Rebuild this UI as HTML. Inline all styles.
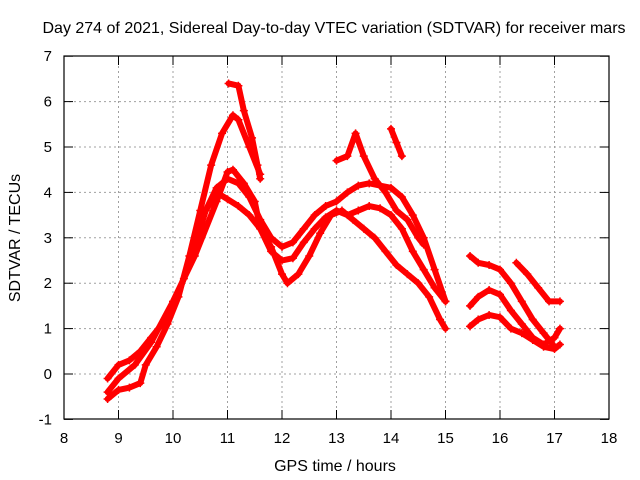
<!DOCTYPE html>
<html><head><meta charset="utf-8"><style>
body{margin:0;background:#fff}
svg{display:block;font-family:"Liberation Sans",sans-serif}
</style></head><body>
<svg id="chart" width="640" height="480">
<text x="334" y="33" text-anchor="middle" font-size="16">Day 274 of 2021, Sidereal Day-to-day VTEC variation (SDTVAR) for receiver mars</text>
<text x="335" y="471" text-anchor="middle" font-size="16">GPS time / hours</text>
<text transform="translate(20,238) rotate(-90)" text-anchor="middle" font-size="16">SDTVAR / TECUs</text>
<g id="grid"></g><g id="ticks"></g><g id="series"></g>
<rect x="64" y="56" width="545" height="363" fill="none" stroke="#000" stroke-width="1.2"/>
</svg>
<script>
const xTicks=[8,9,10,11,12,13,14,15,16,17,18];
const yTicks=[-1,0,1,2,3,4,5,6,7];
const trackA=[[8.8,-0.55],[9.0,-0.35],[9.2,-0.3],[9.4,-0.2],[9.5,0.2],[9.7,0.6],[9.9,1.1],[10.1,1.7],[10.3,2.6],[10.5,3.6],[10.7,4.6],[10.9,5.3],[11.1,5.7],[11.2,5.6],[11.4,5.0],[11.6,4.4]];
const trackPeak=[[11.02,6.4],[11.2,6.35],[11.3,5.8],[11.45,5.2],[11.55,4.6],[11.6,4.3]];
const trackB=[[8.8,-0.1],[9.0,0.2],[9.2,0.3],[9.4,0.5],[9.6,0.8],[9.8,1.1],[10.0,1.5],[10.2,2.1],[10.4,2.9],[10.6,3.6],[10.8,4.1],[11.0,4.3],[11.2,4.2],[11.4,3.9],[11.6,3.4],[11.8,3.0],[12.0,2.8],[12.2,2.9],[12.4,3.2],[12.6,3.5],[12.8,3.7],[13.0,3.8],[13.2,4.0],[13.4,4.15],[13.6,4.2],[13.8,4.15],[14.0,4.1],[14.2,3.9],[14.4,3.5],[14.6,3.0],[14.8,2.3],[15.0,1.6]];
const trackC=[[8.8,-0.4],[9.0,-0.1],[9.3,0.2],[9.6,0.7],[10.0,1.6],[10.4,2.6],[10.8,3.8],[11.0,4.45],[11.1,4.5],[11.3,4.2],[11.5,3.8],[11.6,3.2],[11.8,2.7],[12.0,2.5],[12.2,2.55],[12.4,2.9],[12.6,3.2],[12.8,3.45],[13.0,3.6],[13.2,3.5],[13.4,3.6],[13.6,3.7],[13.8,3.65],[14.0,3.5],[14.2,3.2],[14.4,2.7],[14.6,2.3],[14.8,1.9],[15.0,1.6]];
const trackD=[[10.4,2.8],[10.6,3.6],[10.8,4.0],[11.0,3.85],[11.2,3.7],[11.4,3.5],[11.6,3.2],[11.8,2.8],[12.0,2.2],[12.1,2.0],[12.3,2.2],[12.5,2.6],[12.7,3.1],[12.9,3.5],[13.1,3.6],[13.3,3.4],[13.5,3.2],[13.7,3.0],[13.9,2.7],[14.1,2.4],[14.3,2.2],[14.5,2.0],[14.7,1.7],[14.9,1.2],[15.0,1.0]];
const trackE=[[13.0,4.7],[13.2,4.8],[13.35,5.3],[13.5,4.8],[13.7,4.3],[13.9,4.0],[14.1,3.6],[14.3,3.4],[14.5,3.0],[14.6,2.85]];
const trackF=[[14.0,5.4],[14.1,5.1],[14.2,4.8]];
const trackG=[[15.45,2.6],[15.6,2.45],[15.8,2.4],[16.0,2.3],[16.2,2.0],[16.4,1.6],[16.6,1.2],[16.8,0.9],[17.0,0.6]];
const trackH=[[15.45,1.5],[15.6,1.7],[15.8,1.85],[16.0,1.75],[16.2,1.4],[16.4,1.1],[16.6,0.8],[16.8,0.65],[17.0,0.8],[17.1,1.0]];
const trackI=[[15.45,1.05],[15.6,1.2],[15.8,1.3],[16.0,1.25],[16.2,1.0],[16.4,0.9],[16.6,0.75],[16.8,0.6],[17.0,0.55],[17.1,0.65]];
const trackJ=[[16.3,2.45],[16.5,2.2],[16.7,1.9],[16.9,1.6],[17.1,1.6]];
const tracks=[trackA,trackPeak,trackB,trackC,trackD,trackE,trackF,trackG,trackH,trackI,trackJ];

const X=v=>64+(v-8)*54.5, Y=v=>374-v*45.4;
const NS="http://www.w3.org/2000/svg";
function mk(t,a,p){const e=document.createElementNS(NS,t);for(const k in a)e.setAttribute(k,a[k]);p.appendChild(e);return e;}
const grid=document.getElementById('grid'),ticks=document.getElementById('ticks'),ser=document.getElementById('series');
xTicks.forEach(t=>{
  if(t>8&&t<18){const g=mk('line',{x1:X(t),x2:X(t),y1:56,y2:419,stroke:'#a0a0a0','stroke-dasharray':'2,3'},grid);
  }
  mk('line',{x1:X(t),x2:X(t),y1:419,y2:410,stroke:'#000'},ticks);mk('line',{x1:X(t),x2:X(t),y1:56,y2:65,stroke:'#000'},ticks);
  const l=mk('text',{x:X(t),y:443,'text-anchor':'middle','font-size':15},ticks);l.textContent=t;
  
});
yTicks.forEach(t=>{
  if(t>-1&&t<7){const g=mk('line',{x1:64,x2:609,y1:Y(t),y2:Y(t),stroke:'#a0a0a0','stroke-dasharray':'2,3'},grid);
  }
  mk('line',{x1:64,x2:73,y1:Y(t),y2:Y(t),stroke:'#000'},ticks);mk('line',{x1:600,x2:609,y1:Y(t),y2:Y(t),stroke:'#000'},ticks);
  const l=mk('text',{x:52,y:Y(t)+5,'text-anchor':'end','font-size':15},ticks);l.textContent=t;
  
});
tracks.forEach((tr,i)=>{
  const p=mk('polyline',{points:tr.map(d=>X(d[0])+','+Y(d[1])).join(' '),fill:'none',stroke:'#f00','stroke-width':6,'stroke-linejoin':'round','stroke-linecap':'round'},ser);
  
  
  tr.forEach(d=>{
    const m=mk('path',{d:`M${X(d[0])-4},${Y(d[1])}h8M${X(d[0])},${Y(d[1])-4}v8`,stroke:'#f00','stroke-width':1.5},ser);
    
    
  });
});
</script>
</body></html>
